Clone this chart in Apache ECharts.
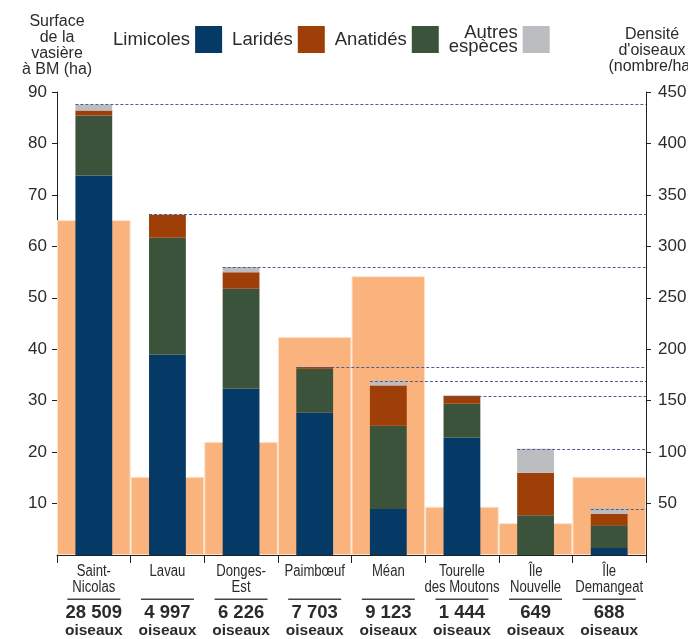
<!DOCTYPE html>
<html>
<head>
<meta charset="utf-8">
<script src="https://cdn.jsdelivr.net/npm/echarts@6/dist/echarts.min.js"></script>
<style>
html,body{margin:0;padding:0;background:#fff;}
#chart{width:688px;height:639px;}
</style>
</head>
<body>
<div id="chart"></div>
<script>
// ---- Data ----
const categories = ['Saint-\nNicolas', 'Lavau', 'Donges-\nEst', 'Paimbœuf', 'Méan', 'Tourelle\ndes Moutons', 'Île\nNouvelle', 'Île\nDemangeat'];
const birdCounts = [28509, 4997, 6226, 7703, 9123, 1444, 649, 688];
// Surface de la vasière à basse mer (ha) - left axis
const surface = [65.1, 15.2, 22.0, 42.4, 54.2, 9.4, 6.2, 15.2];
// Densité d'oiseaux (nombre/ha) - right axis
const limicoles = [368.8, 194.6, 161.5, 138.4, 44.8, 114.0, 0, 6.8];
const anatides  = [58.4, 113.8, 97.3, 42.6, 80.9, 33.1, 38.7, 22.1];
const larides   = [4.9, 22.4, 15.9, 1.6, 39.0, 7.8, 41.2, 11.0];
const autres    = [5.8, 0.3, 5.2, 0, 4.5, 0, 23.4, 5.2];
const leftTicks = [0, 90, 10];   // min, max, interval
const rightTicks = [0, 450, 50];

const totals = categories.map((c, i) => limicoles[i] + anatides[i] + larides[i] + autres[i]);

const BASE = "'Liberation Sans', Arial, sans-serif";
const TXT = '#2b2b2b';
const AX = '#222';

function fmtCount(n) {
  return String(n).replace(/\B(?=(\d{3})+(?!\d))/g, ' ');
}

const chart = echarts.init(document.getElementById('chart'));
const option = {
  animation: false,
  legend: {
    data: ['Limicoles', 'Laridés', 'Anatidés', 'Autres espèces'],
    left: 113, top: 23, padding: 0,
    align: 'right',
    itemWidth: 27, itemHeight: 27, itemGap: 10,
    icon: 'rect',
    formatter: n => n === 'Autres espèces' ? 'Autres\nespèces' : n,
    textStyle: { fontFamily: BASE, fontSize: 18.5, color: TXT, lineHeight: 14 }
  },
  grid: { left: 57, right: 42, top: 92, bottom: 84, containLabel: false, outerBoundsMode: 'none' },
  xAxis: [
    {
      type: 'category', data: categories,
      axisLine: { show: true, lineStyle: { color: AX, width: 1 } },
      axisTick: { show: true, length: 8, lineStyle: { color: AX } },
      axisLabel: {
        margin: 40, interval: 0,
        formatter: (v, idx) => '{s|}\n{b|' + fmtCount(birdCounts[idx]) + '}\n{o|oiseaux}',
        rich: {
          s: { width: 53, height: 1.5, backgroundColor: '#444', lineHeight: 8.7, verticalAlign: 'middle' },
          b: { fontFamily: BASE, fontSize: 18.5, fontWeight: 'bold', color: TXT, lineHeight: 18.7, verticalAlign: 'middle' },
          o: { fontFamily: BASE, fontSize: 15.5, fontWeight: 'bold', color: TXT, lineHeight: 17.3, verticalAlign: 'middle' }
        }
      }
    },
    { type: 'category', data: categories, show: false }
  ],
  yAxis: [
    {
      type: 'value', min: leftTicks[0], max: leftTicks[1], interval: leftTicks[2],
      name: 'Surface\nde la\nvasière\nà BM (ha)', nameLocation: 'end', nameGap: 14,
      nameTextStyle: { fontFamily: BASE, fontSize: 16, color: TXT, lineHeight: 16, align: 'center' },
      axisLine: { show: true, lineStyle: { color: AX } },
      axisTick: { show: true, length: 5, lineStyle: { color: AX } },
      axisLabel: { showMinLabel: false, margin: 10, fontFamily: BASE, fontSize: 17, color: TXT },
      splitLine: { show: false }
    },
    {
      type: 'value', min: rightTicks[0], max: rightTicks[1], interval: rightTicks[2],
      name: "Densité\nd'oiseaux\n(nombre/ha)", nameLocation: 'end', nameGap: 17,
      nameTextStyle: { fontFamily: BASE, fontSize: 16, color: TXT, lineHeight: 16.3, align: 'center', padding: [0, 0, 0, 12] },
      axisLine: { show: true, lineStyle: { color: AX } },
      axisTick: { show: true, length: 5, lineStyle: { color: AX } },
      axisLabel: { showMinLabel: false, margin: 12, fontFamily: BASE, fontSize: 17, color: TXT },
      splitLine: { show: false }
    }
  ],
  series: [
    {
      name: 'Surface', type: 'bar', xAxisIndex: 0, yAxisIndex: 0,
      data: surface, barWidth: '100%', z: 1,
      itemStyle: { color: '#fab37d', borderColor: '#fde4cf', borderWidth: 1 }
    },
    { name: 'Limicoles', type: 'bar', stack: 'd', xAxisIndex: 1, yAxisIndex: 1, data: limicoles, barWidth: '50%', z: 2, itemStyle: { color: '#053a67' } },
    { name: 'Anatidés', type: 'bar', stack: 'd', xAxisIndex: 1, yAxisIndex: 1, data: anatides, barWidth: '50%', z: 2, itemStyle: { color: '#3b533b' } },
    { name: 'Laridés', type: 'bar', stack: 'd', xAxisIndex: 1, yAxisIndex: 1, data: larides, barWidth: '50%', z: 2, itemStyle: { color: '#9d3f07' } },
    { name: 'Autres espèces', type: 'bar', stack: 'd', xAxisIndex: 1, yAxisIndex: 1, data: autres, barWidth: '50%', z: 2, itemStyle: { color: '#bcbdc1' } },
    {
      name: 'Total', type: 'custom', xAxisIndex: 1, yAxisIndex: 1, z: 3,
      data: totals.map((t, i) => [i, t]),
      encode: { x: 0, y: 1 },
      renderItem: (params, api) => {
        const p = api.coord([api.value(0), api.value(1)]);
        const bw = api.size([1, 0])[0];
        const cs = params.coordSys;
        const y = Math.round(p[1]) + 0.5;
        return {
          type: 'line',
          shape: { x1: p[0] - bw * 0.25, y1: y, x2: cs.x + cs.width, y2: y },
          style: { stroke: '#4b5e94', lineWidth: 1, lineDash: [3, 2] }
        };
      }
    },
    {
      // category names, drawn condensed under the axis
      name: 'Names', type: 'custom', xAxisIndex: 1, yAxisIndex: 1, z: 3, clip: false,
      silent: true,
      data: categories.map((c, i) => [i, 0]),
      encode: { x: 0, y: 1 },
      renderItem: (params, api) => {
        const idx = params.dataIndex;
        const p = api.coord([api.value(0), api.value(1)]);
        return {
          type: 'text',
          x: p[0], y: p[1] + 9,
          scaleX: 0.82, scaleY: 1,
          style: {
            text: categories[idx],
            x: 0, y: 0,
            align: 'center', verticalAlign: 'top',
            fontFamily: BASE, fontSize: 16, lineHeight: 15.5,
            fill: TXT
          }
        };
      }
    }
  ]
};
chart.setOption(option);
</script>
</body>
</html>
